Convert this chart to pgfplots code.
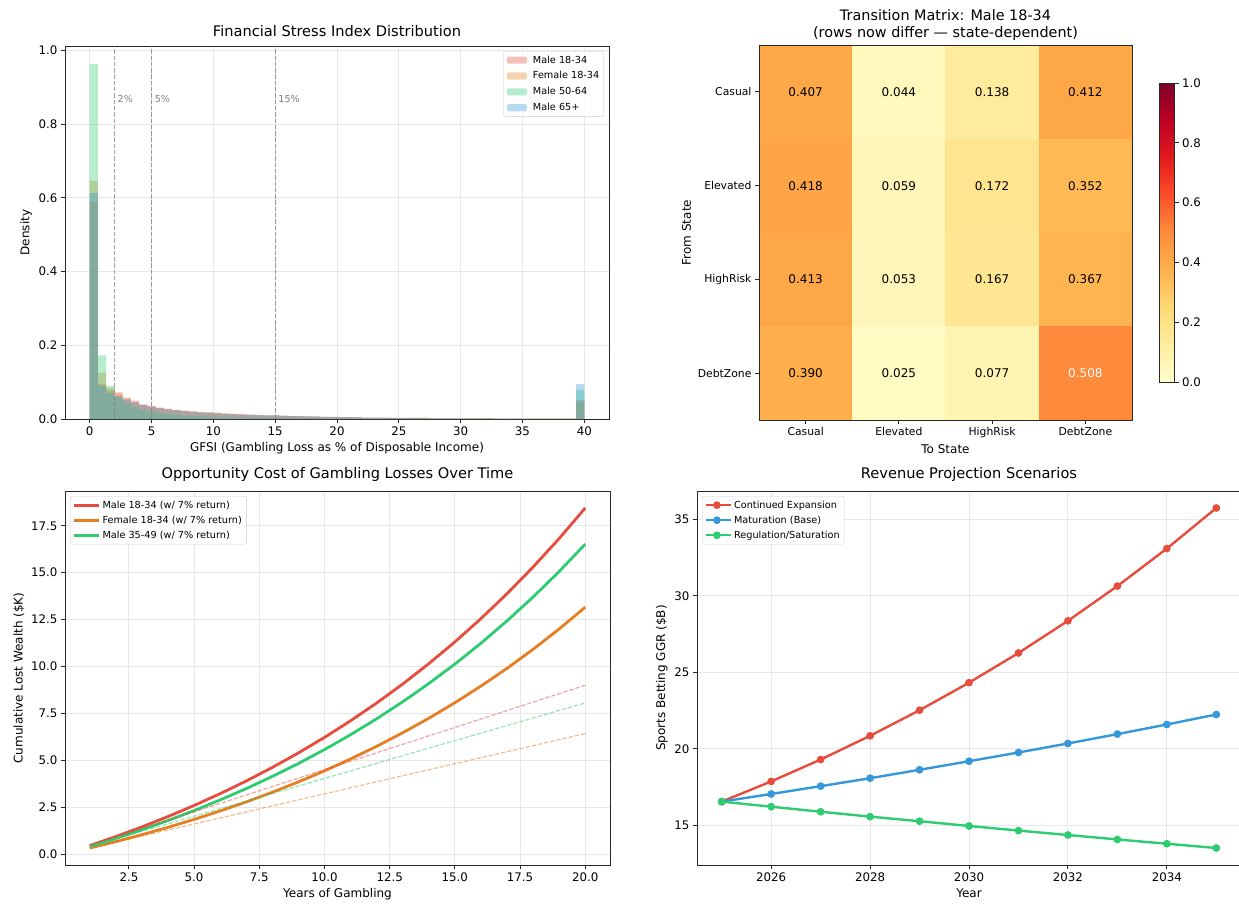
\documentclass[border=0pt]{standalone}
\usepackage{fontspec}
\setmainfont{DejaVu Sans}
\usepackage{pgfplots}
\usepackage{pgfplotstable}
\pgfplotsset{compat=1.18}

\definecolor{cred}{HTML}{E74C3C}
\definecolor{corange}{HTML}{E67E22}
\definecolor{cgreen}{HTML}{2ECC71}
\definecolor{cblue}{HTML}{3498DB}
\definecolor{gridc}{RGB}{231,231,231}
\definecolor{spine}{RGB}{40,40,40}
\definecolor{legc}{RGB}{204,204,204}

\newcommand{\fs}[2]{\fontsize{#1}{#2}\selectfont}

\pgfplotsset{
  colormap={ylorrd}{rgb255=(255,255,204) rgb255=(255,237,160) rgb255=(254,217,118) rgb255=(254,178,76) rgb255=(253,141,60) rgb255=(252,78,42) rgb255=(227,26,28) rgb255=(189,0,38) rgb255=(128,0,38)},
  mpl/.style={
    scale only axis,
    axis line style={spine, line width=0.9pt},
    tick style={spine, line width=0.9pt},
    tick align=outside,
    major tick length=4pt,
    xtick pos=left, ytick pos=left,
    grid=major,
    major grid style={gridc, line width=0.9pt},
    tick label style={font=\fs{11.8}{14}},
    label style={font=\fs{12}{14}},
    title style={font=\fs{14.6}{17}},
    /pgf/number format/assume math mode=true,
    legend style={font=\fs{9.7}{11.6}, draw=legc, rounded corners=2pt, fill=white, fill opacity=0.8, text opacity=1, inner sep=2.5pt, row sep=2.2pt},
    legend cell align=left,
  },
  patchlegend/.style={legend image code/.code={\fill[##1] (1pt,-3.6pt) rectangle (21pt,3.6pt); \path (0pt,0pt) -- (25pt,0pt);}},
  linelegend/.style={legend image code/.code={\draw[##1, mark repeat=2, mark phase=2] plot coordinates {(1pt,0pt) (11pt,0pt) (21pt,0pt)}; \path (0pt,0pt) -- (25pt,0pt);}},
}

% histogram: bin left edges (width 2/3), densities
\pgfplotstableread{
x m18 f18 m50 m65
0.0000 0.590 0.646 0.964 0.613
0.6667 0.095 0.126 0.173 0.090
1.3333 0.078 0.085 0.090 0.070
2.0000 0.072 0.068 0.059 0.062
2.6667 0.058 0.055 0.043 0.052
3.3333 0.050 0.046 0.032 0.045
4.0000 0.040 0.038 0.025 0.038
4.6667 0.035 0.034 0.020 0.033
5.3333 0.031 0.030 0.016 0.029
6.0000 0.028 0.027 0.013 0.026
6.6667 0.025 0.024 0.011 0.024
7.3333 0.023 0.022 0.009 0.022
8.0000 0.021 0.020 0.008 0.020
8.6667 0.019 0.018 0.007 0.018
9.3333 0.018 0.017 0.006 0.017
10.0000 0.017 0.015 0.005 0.015
10.6667 0.015 0.014 0.005 0.014
11.3333 0.014 0.013 0.004 0.013
12.0000 0.013 0.012 0.004 0.012
12.6667 0.012 0.011 0.003 0.012
13.3333 0.011 0.010 0.003 0.011
14.0000 0.010 0.010 0.003 0.010
14.6667 0.010 0.009 0.003 0.011
15.3333 0.009 0.008 0.002 0.009
16.0000 0.008 0.008 0.002 0.008
16.6667 0.008 0.007 0.002 0.008
17.3333 0.007 0.007 0.002 0.007
18.0000 0.007 0.006 0.002 0.007
18.6667 0.006 0.006 0.002 0.006
19.3333 0.006 0.005 0.001 0.006
20.0000 0.005 0.005 0.001 0.005
20.6667 0.005 0.005 0.001 0.005
21.3333 0.005 0.004 0.001 0.005
22.0000 0.004 0.004 0.001 0.004
22.6667 0.004 0.004 0.001 0.004
23.3333 0.004 0.003 0.001 0.004
24.0000 0.004 0.003 0.001 0.003
24.6667 0.003 0.003 0.001 0.003
25.3333 0.003 0.003 0.001 0.003
26.0000 0.003 0.004 0.001 0.003
26.6667 0.003 0.004 0.001 0.003
27.3333 0.003 0.002 0.001 0.002
28.0000 0.002 0.002 0.001 0.002
28.6667 0.002 0.002 0.001 0.002
29.3333 0.002 0.002 0.001 0.002
30.0000 0.002 0.002 0.001 0.002
30.6667 0.002 0.002 0.001 0.002
31.3333 0.002 0.003 0.001 0.002
32.0000 0.002 0.003 0.001 0.001
32.6667 0.001 0.001 0.001 0.001
33.3333 0.001 0.001 0.001 0.001
34.0000 0.001 0.001 0.001 0.002
34.6667 0.001 0.001 0.001 0.001
35.3333 0.001 0.001 0.001 0.001
36.0000 0.001 0.001 0.001 0.001
36.6667 0.001 0.001 0.001 0.001
37.3333 0.001 0.001 0.001 0.001
38.0000 0.001 0.001 0.001 0.001
38.6667 0.001 0.001 0.001 0.001
39.3333 0.051 0.045 0.079 0.095
40.0000 0.051 0.045 0.079 0.095
}\histdata

\pgfplotstableread{
n red green orange
1 0.450 0.403 0.321
2 0.932 0.834 0.664
3 1.447 1.296 1.032
4 1.998 1.789 1.425
5 2.588 2.318 1.846
6 3.219 2.883 2.296
7 3.894 3.488 2.778
8 4.617 4.135 3.293
9 5.390 4.827 3.845
10 6.217 5.568 4.435
11 7.103 6.361 5.067
12 8.050 7.209 5.742
13 9.063 8.117 6.465
14 10.148 9.088 7.239
15 11.308 10.127 8.066
16 12.550 11.239 8.952
17 13.878 12.429 9.900
18 15.300 13.701 10.914
19 16.821 15.064 11.999
20 18.448 16.521 13.160
}\oppdata

\pgfplotstableread{
year exp base reg
2025 16.55 16.55 16.55
2026 17.87 17.05 16.22
2027 19.30 17.56 15.89
2028 20.85 18.08 15.57
2029 22.52 18.63 15.27
2030 24.32 19.19 14.96
2031 26.26 19.76 14.66
2032 28.36 20.35 14.37
2033 30.63 20.96 14.08
2034 33.08 21.59 13.80
2035 35.73 22.24 13.52
}\revdata

\begin{document}
\begin{tikzpicture}[x=1pt,y=1pt]
\useasboundingbox (0,0) rectangle (1239,-906);

% ---------------- Top-left: histogram
\begin{axis}[mpl, at={(65pt,-46pt)}, anchor=north west, width=544pt, height=373pt,
  xmin=-2, xmax=42, ymin=0, ymax=1.0122,
  xtick={0,5,10,15,20,25,30,35,40},
  ytick={0,0.2,0.4,0.6,0.8,1.0},
  yticklabel style={/pgf/number format/.cd, fixed, fixed zerofill, precision=1},
  title={Financial Stress Index Distribution},
  xlabel={GFSI (Gambling Loss as \% of Disposable Income)},
  ylabel={Density},
  patchlegend,
  legend style={at={(1,1)}, anchor=north east, xshift=-5pt, yshift=-5pt, row sep=3pt},
]
\addplot[const plot, draw=none, fill=cred, fill opacity=0.35] table[x=x, y=m18] {\histdata} \closedcycle;
\addlegendentry{Male 18-34}
\addplot[const plot, draw=none, fill=corange, fill opacity=0.35] table[x=x, y=f18] {\histdata} \closedcycle;
\addlegendentry{Female 18-34}
\addplot[const plot, draw=none, fill=cgreen, fill opacity=0.35] table[x=x, y=m50] {\histdata} \closedcycle;
\addlegendentry{Male 50-64}
\addplot[const plot, draw=none, fill=cblue, fill opacity=0.35] table[x=x, y=m65] {\histdata} \closedcycle;
\addlegendentry{Male 65+}
\addplot[forget plot, gray, line width=1pt, opacity=0.75, dash pattern=on 4.4pt off 1.9pt] coordinates {(2,0) (2,1.0122)};
\addplot[forget plot, gray, line width=1pt, opacity=0.75, dash pattern=on 4.4pt off 1.9pt] coordinates {(5,0) (5,1.0122)};
\addplot[forget plot, gray, line width=1pt, opacity=0.75, dash pattern=on 4.4pt off 1.9pt] coordinates {(15,0) (15,1.0122)};
\node[anchor=west, inner sep=0pt, text=gray, font=\fs{9.6}{11}] at (axis cs:2.25,0.869) {2\%};
\node[anchor=west, inner sep=0pt, text=gray, font=\fs{9.6}{11}] at (axis cs:5.25,0.869) {5\%};
\node[anchor=west, inner sep=0pt, text=gray, font=\fs{9.6}{11}] at (axis cs:15.25,0.869) {15\%};
\end{axis}

% ---------------- Top-right: heatmap
\begin{axis}[mpl, at={(759pt,-45pt)}, anchor=north west, width=373pt, height=375pt,
  grid=none, axis on top,
  xmin=-0.5, xmax=3.5, ymin=-0.5, ymax=3.5, y dir=reverse,
  enlargelimits=false,
  xtick={0,1,2,3}, ytick={0,1,2,3},
  xticklabels={Casual,Elevated,HighRisk,DebtZone},
  yticklabels={Casual,Elevated,HighRisk,DebtZone},
  tick label style={font=\fs{10.8}{13}},
  title={Transition Matrix: Male 18-34\\(rows now differ — state-dependent)},
  title style={align=center, font=\fs{14.4}{16.5}, yshift=-5pt},
  xlabel={To State}, ylabel={From State},
  colormap name=ylorrd,
  point meta min=0, point meta max=1,
  colorbar,
  colorbar style={
    scale only axis,
    at={(parent axis.north east)}, anchor=north west,
    xshift=19pt, yshift=-38pt,
    width=15pt, height=299pt,
    axis line style={spine, line width=0.9pt},
    tick style={spine, line width=0.9pt},
    tick align=outside, major tick length=4pt,
    ytick={0,0.2,0.4,0.6,0.8,1.0},
    ytick pos=right, yticklabel pos=right,
    yticklabel style={font=\fs{11.8}{14}, /pgf/number format/.cd, fixed, fixed zerofill, precision=1, assume math mode=true},
  },
]
\addplot[matrix plot*, mesh/cols=4, point meta=explicit] table[meta=c] {
x y c
0 0 0.407
1 0 0.044
2 0 0.138
3 0 0.412
0 1 0.418
1 1 0.059
2 1 0.172
3 1 0.352
0 2 0.413
1 2 0.053
2 2 0.167
3 2 0.367
0 3 0.390
1 3 0.025
2 3 0.077
3 3 0.508
};
\addplot[only marks, mark=none, nodes near coords, nodes near coords align=center,
  point meta=explicit symbolic,
  every node near coord/.style={font=\fs{12}{14}, text=black, inner sep=0pt}] table[meta=lab] {
x y lab
0 0 0.407
1 0 0.044
2 0 0.138
3 0 0.412
0 1 0.418
1 1 0.059
2 1 0.172
3 1 0.352
0 2 0.413
1 2 0.053
2 2 0.167
3 2 0.367
0 3 0.390
1 3 0.025
2 3 0.077
};
\addplot[only marks, mark=none, nodes near coords, nodes near coords align=center,
  point meta=explicit symbolic,
  every node near coord/.style={font=\fs{12}{14}, text=white, inner sep=0pt}] table[meta=lab] {
x y lab
3 3 0.508
};
\end{axis}

% ---------------- Bottom-left: opportunity cost
\begin{axis}[mpl, at={(65pt,-491pt)}, anchor=north west, width=545pt, height=374pt,
  xmin=0.05, xmax=20.95, ymin=-0.585, ymax=19.354,
  xtick={2.5,5,7.5,10,12.5,15,17.5,20},
  ytick={0,2.5,5,7.5,10,12.5,15,17.5},
  xticklabel style={/pgf/number format/.cd, fixed, fixed zerofill, precision=1},
  yticklabel style={/pgf/number format/.cd, fixed, fixed zerofill, precision=1},
  title={Opportunity Cost of Gambling Losses Over Time},
  xlabel={Years of Gambling},
  ylabel={Cumulative Lost Wealth (\$K)},
  linelegend,
  legend style={at={(0,1)}, anchor=north west, xshift=5pt, yshift=-5pt},
]
\addplot[cred, line width=2.8pt] table[x=n, y=red] {\oppdata};
\addlegendentry{Male 18-34 (w/ 7\% return)}
\addplot[corange, line width=2.8pt] table[x=n, y=orange] {\oppdata};
\addlegendentry{Female 18-34 (w/ 7\% return)}
\addplot[cgreen, line width=2.8pt] table[x=n, y=green] {\oppdata};
\addlegendentry{Male 35-49 (w/ 7\% return)}
\addplot[forget plot, cred, line width=1.2pt, opacity=0.5, dash pattern=on 4.4pt off 1.9pt] coordinates {(1,0.450) (20,9.000)};
\addplot[forget plot, corange, line width=1.2pt, opacity=0.5, dash pattern=on 4.4pt off 1.9pt] coordinates {(1,0.321) (20,6.420)};
\addplot[forget plot, cgreen, line width=1.2pt, opacity=0.5, dash pattern=on 4.4pt off 1.9pt] coordinates {(1,0.403) (20,8.060)};
\end{axis}

% ---------------- Bottom-right: revenue scenarios
\begin{axis}[mpl, at={(697pt,-491pt)}, anchor=north west, width=544pt, height=374pt,
  xmin=2024.5, xmax=2035.5, ymin=12.41, ymax=36.84,
  xtick={2026,2028,2030,2032,2034},
  ytick={15,20,25,30,35},
  xticklabel style={/pgf/number format/.cd, 1000 sep={}},
  title={Revenue Projection Scenarios},
  xlabel={Year},
  ylabel={Sports Betting GGR (\$B)},
  linelegend,
  legend style={at={(0,1)}, anchor=north west, xshift=5pt, yshift=-5pt},
]
\addplot[cred, line width=2.4pt, mark=*, mark size=2.6pt] table[x=year, y=exp] {\revdata};
\addlegendentry{Continued Expansion}
\addplot[cblue, line width=2.4pt, mark=*, mark size=2.6pt] table[x=year, y=base] {\revdata};
\addlegendentry{Maturation (Base)}
\addplot[cgreen, line width=2.4pt, mark=*, mark size=2.6pt] table[x=year, y=reg] {\revdata};
\addlegendentry{Regulation/Saturation}
\end{axis}
\end{tikzpicture}
\end{document}
